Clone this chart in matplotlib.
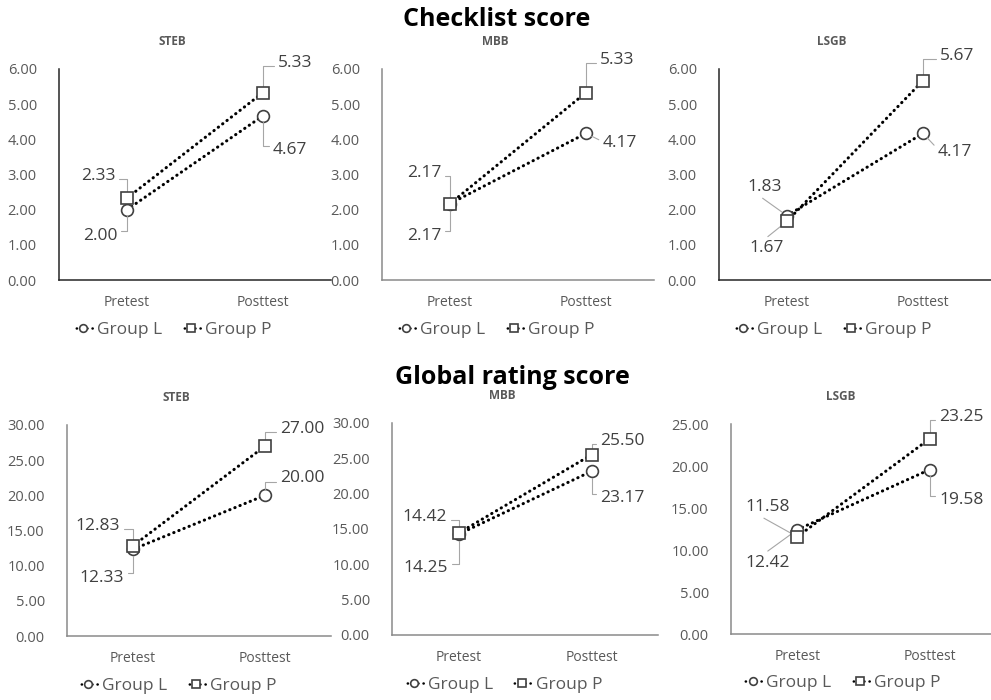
import numpy as np
import matplotlib
matplotlib.use('Agg')
import matplotlib.pyplot as plt

plt.rcParams['font.family'] = ['Open Sans', 'DejaVu Sans']

# data
categories = ['Pretest', 'Posttest']
groups = ['Group L', 'Group P']
panels = ['STEB', 'MBB', 'LSGB']

checklist_L = [[2.00, 4.67], [2.17, 4.17], [1.83, 4.17]]
checklist_P = [[2.33, 5.33], [2.17, 5.33], [1.67, 5.67]]
global_L = [[12.33, 20.00], [14.25, 23.17], [12.42, 19.58]]
global_P = [[12.83, 27.00], [14.42, 25.50], [11.58, 23.25]]

checklist_ymax = [6, 6, 6]
global_ymax = [30, 30, 25]

# layout (pixels of a 991x700 figure): left, right, top, bottom of each plot area
W, H = 991, 700
top_boxes = [(59, 331, 69, 280), (382, 654, 69, 280), (719, 991, 69, 280)]
bot_boxes = [(67, 331, 425, 636), (392, 658, 423, 635), (731, 996, 424, 634)]
top_axis_col = ['#262626', '#8a8a8a', '#262626']
bot_axis_col = ['#8a8a8a', '#8a8a8a', '#8a8a8a']

# label offsets in px (dx, dy up), leader style, relpos on the text box
# order per panel: L pre, L post, P pre, P post
top_labels = [
    [(-27, -26, 'angle', (1, 0.8)), (27, -34, 'angle', (0, 0.75)),
     (-29, 22, 'angle', (1, 0.3)), (32, 30, 'angle', (0, 0.3))],
    [(-26, -32, 'angle', (1, 0.8)), (34, -10, 'line', (0, 0.6)),
     (-26, 31, 'angle', (1, 0.3)), (31, 33, 'angle', (0, 0.3))],
    [(-22, 29, 'line', (0.35, -0.1)), (32, -19, 'line', (0, 0.7)),
     (-20, -27, 'line', (0.45, 1.1)), (34, 25, 'angle', (0, 0.3))],
]
bot_labels = [
    [(-31, -29, 'angle', (1, 0.8)), (37, 17, 'angle', (0, 0.3)),
     (-35, 20, 'angle', (1, 0.3)), (37, 17, 'angle', (0, 0.3))],
    [(-33, -34, 'angle', (1, 0.8)), (31, -27, 'angle', (0, 0.75)),
     (-34, 16, 'angle', (1, 0.3)), (31, 14, 'angle', (0, 0.3))],
    [(-30, -33, 'line', (0.45, 1.1)), (32, -30, 'angle', (0, 0.75)),
     (-30, 30, 'line', (0.35, -0.1)), (32, 22, 'angle', (0, 0.3))],
]

gray = '#595959'
PX = 72 / 100.0
DOTS = (0, (0.1, 1.7))


def make_panel(fig, box, name, yL, yP, ymax, axcol, labels):
    l, r, t, b = box
    ax = fig.add_axes([l / W, 1 - b / H, (r - l) / W, (b - t) / H])
    x = np.arange(len(categories))
    ax.plot(x, yL, ls=DOTS, lw=2.2, color='black', dash_capstyle='round',
            marker='o', ms=8.5, mfc='white', mec='#404040', mew=1.2,
            label=groups[0], zorder=3)
    ax.plot(x, yP, ls=DOTS, lw=2.2, color='black', dash_capstyle='round',
            marker='s', ms=8, mfc='white', mec='#404040', mew=1.2,
            label=groups[1], zorder=4)
    ax.set_xlim(-0.5, 1.5)
    ax.set_ylim(0, ymax)
    step = 1 if ymax <= 6 else 5
    ax.set_yticks(np.arange(0, ymax + step / 2, step))
    ax.set_yticklabels(['%.2f' % v for v in np.arange(0, ymax + step / 2, step)])
    ax.set_xticks(x)
    ax.set_xticklabels(categories)
    ax.tick_params(axis='y', length=0, pad=16, labelsize=10.5, labelcolor=gray)
    ax.tick_params(axis='x', length=0, pad=11, labelsize=10, labelcolor=gray)
    for s in ['top', 'right']:
        ax.spines[s].set_visible(False)
    for s in ['left', 'bottom']:
        ax.spines[s].set_color(axcol)
        ax.spines[s].set_linewidth(1.1)
    ax.patch.set_alpha(0)

    pts = [(0, yL[0]), (1, yL[1]), (0, yP[0]), (1, yP[1])]
    for (px, py), (dx, dy, style, rp) in zip(pts, labels):
        if style == 'angle':
            cs = 'angle,angleA=0,angleB=90,rad=0'
        else:
            cs = 'arc3,rad=0'
        ax.annotate('%.2f' % py, xy=(px, py), xytext=(dx * PX, dy * PX),
                    textcoords='offset points', ha='center', va='center',
                    fontsize=12.5, color='#404040',
                    arrowprops=dict(arrowstyle='-', color='#a6a6a6', lw=0.8,
                                    connectionstyle=cs, relpos=rp,
                                    shrinkA=1, shrinkB=4.5))

    ax.text(0.415, 1.13, name, transform=ax.transAxes, ha='center',
            va='center', fontsize=8.5, fontweight='bold', color=gray)
    leg = ax.legend(loc='center', bbox_to_anchor=(0.415, -0.235), ncol=2,
                    frameon=False, fontsize=12.5, handlelength=1.3,
                    handletextpad=0.15, columnspacing=1.0, markerscale=0.65)
    for txt in leg.get_texts():
        txt.set_color(gray)
    for ln in leg.get_lines():
        ln.set_linewidth(1.8)
        ln.set_linestyle((0.4, (0.1, 2.0)))
    return ax


fig = plt.figure(figsize=(W / 100, H / 100), dpi=100)

for i in range(3):
    make_panel(fig, top_boxes[i], panels[i], checklist_L[i], checklist_P[i],
               checklist_ymax[i], top_axis_col[i], top_labels[i])
    make_panel(fig, bot_boxes[i], panels[i], global_L[i], global_P[i],
               global_ymax[i], bot_axis_col[i], bot_labels[i])

fig.text(497 / W, 1 - 20 / H, 'Checklist score', ha='center', va='center',
         fontsize=18, fontweight='bold', color='black')
fig.text(512 / W, 1 - 377 / H, 'Global rating score', ha='center',
         va='center', fontsize=18, fontweight='bold', color='black')

fig.savefig('out.png', dpi=100, facecolor='white')
